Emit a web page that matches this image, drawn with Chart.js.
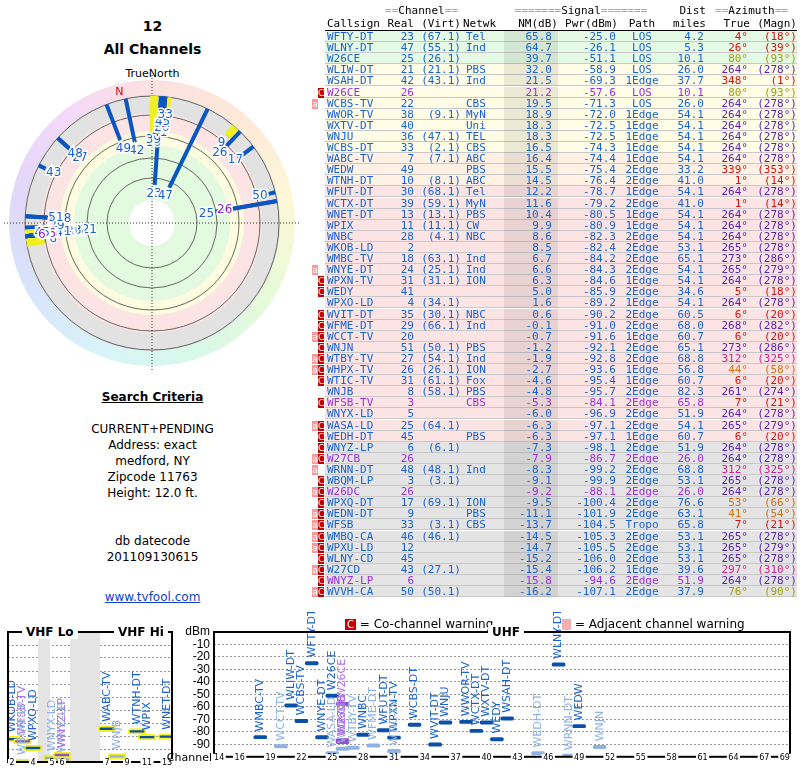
<!DOCTYPE html>
<html>
<head>
<meta charset="utf-8">
<script src="https://cdn.jsdelivr.net/npm/chart.js"></script>
<style>
body { margin:0; width:800px; height:768px; background:#fff; position:relative; overflow:hidden; font-family:"DejaVu Sans", Verdana, sans-serif; }
.abs { position:absolute; }
.tbl { font-family:"DejaVu Sans Mono", monospace; font-size:11px; }
.c { position:absolute; white-space:pre; top:0; line-height:11px; }
.mk { position:absolute; width:6px; height:10px; color:#fff; font-size:9px; line-height:10px; text-align:center; font-family:"DejaVu Sans", sans-serif; }
</style>
</head>
<body>
<div class="abs" style="left:0;width:305px;top:18px;text-align:center;font-weight:bold;font-size:14px">12</div>
<div class="abs" style="left:0;width:305px;top:41px;text-align:center;font-weight:bold;font-size:14px">All Channels</div>
<div class="abs" style="left:0;width:305px;top:67px;text-align:center;font-size:11px">TrueNorth</div>
<canvas id="polar" class="abs" style="left:2px;top:73px" width="300" height="300"></canvas>
<div class="abs" style="left:0;width:305px;top:389px;text-align:center;font-size:12px;line-height:16px">
<b style="text-decoration:underline">Search Criteria</b><br><br>
CURRENT+PENDING<br>Address: exact<br>medford, NY<br>Zipcode 11763<br>Height: 12.0 ft.<br><br><br>db datecode<br>201109130615
</div>
<div class="abs" style="left:0;width:305px;top:590px;text-align:center;font-size:12px;color:#1040d0;text-decoration:underline">www.tvfool.com</div>

<div id="table" class="abs tbl" style="left:0;top:0;width:800px;height:600px"></div>

<canvas id="vhf" class="abs" style="left:0;top:612px" width="180" height="156"></canvas>
<canvas id="uhf" class="abs" style="left:160px;top:612px" width="640" height="156"></canvas>
<div class="abs" style="left:345px;top:617px;font-size:12px"><span style="background:#c00;color:#fff;padding:0 2px;font-size:10px">C</span> = Co-channel warning</div>
<div class="abs" style="left:562px;top:617px;font-size:12px"><span style="background:#f4b0b0;color:#fff;padding:0 3px;font-size:10px">&nbsp;</span> = Adjacent channel warning</div>
<div class="abs" style="left:22px;top:625px;font-size:12px;font-weight:bold;background:#fff;padding:0 4px">VHF Lo</div>
<div class="abs" style="left:114px;top:625px;font-size:12px;font-weight:bold;background:#fff;padding:0 4px">VHF Hi</div>
<div class="abs" style="left:488px;top:625px;font-size:12px;font-weight:bold;background:#fff;padding:0 4px">UHF</div>

<script>
// callsign, real, virt, netwk, nm, pwr, path, dist, true, magn, marks, purple
const stations = [
    ['WFTY-DT', 23, '(67.1)', 'Tel', 65.8, -25.0, 'LOS', 4.2, 4, 18, '', 0],
    ['WLNY-DT', 47, '(55.1)', 'Ind', 64.7, -26.1, 'LOS', 5.3, 26, 39, '', 0],
    ['W26CE', 25, '(26.1)', '', 39.7, -51.1, 'LOS', 10.1, 80, 93, '', 0],
    ['WLIW-DT', 21, '(21.1)', 'PBS', 32.0, -58.9, 'LOS', 26.0, 264, 278, '', 0],
    ['WSAH-DT', 42, '(43.1)', 'Ind', 21.5, -69.3, '1Edge', 37.7, 348, 1, '', 0],
    ['W26CE', 26, '', '', 21.2, -57.6, 'LOS', 10.1, 80, 93, 'C', 1],
    ['WCBS-TV', 22, '', 'CBS', 19.5, -71.3, 'LOS', 26.0, 264, 278, 'a', 0],
    ['WWOR-TV', 38, '(9.1)', 'MyN', 18.9, -72.0, '1Edge', 54.1, 264, 278, '', 0],
    ['WXTV-DT', 40, '', 'Uni', 18.3, -72.5, '1Edge', 54.1, 264, 278, '', 0],
    ['WNJU', 36, '(47.1)', 'TEL', 18.3, -72.5, '1Edge', 54.1, 264, 278, '', 0],
    ['WCBS-DT', 33, '(2.1)', 'CBS', 16.5, -74.3, '1Edge', 54.1, 264, 278, '', 0],
    ['WABC-TV', 7, '(7.1)', 'ABC', 16.4, -74.4, '1Edge', 54.1, 264, 278, '', 0],
    ['WEDW', 49, '', 'PBS', 15.5, -75.4, '2Edge', 33.2, 339, 353, '', 0],
    ['WTNH-DT', 10, '(8.1)', 'ABC', 14.5, -76.4, '2Edge', 41.0, 1, 14, '', 0],
    ['WFUT-DT', 30, '(68.1)', 'Tel', 12.2, -78.7, '1Edge', 54.1, 264, 278, '', 0],
    ['WCTX-DT', 39, '(59.1)', 'MyN', 11.6, -79.2, '2Edge', 41.0, 1, 14, '', 0],
    ['WNET-DT', 13, '(13.1)', 'PBS', 10.4, -80.5, '1Edge', 54.1, 264, 278, '', 0],
    ['WPIX', 11, '(11.1)', 'CW', 9.9, -80.9, '1Edge', 54.1, 264, 278, '', 0],
    ['WNBC', 28, '(4.1)', 'NBC', 8.6, -82.3, '2Edge', 54.1, 264, 278, '', 0],
    ['WKOB-LD', 2, '', '', 8.5, -82.4, '2Edge', 53.1, 265, 278, '', 0],
    ['WMBC-TV', 18, '(63.1)', 'Ind', 6.7, -84.2, '2Edge', 65.1, 273, 286, '', 0],
    ['WNYE-DT', 24, '(25.1)', 'Ind', 6.6, -84.3, '2Edge', 54.1, 265, 279, 'a', 0],
    ['WPXN-TV', 31, '(31.1)', 'ION', 6.3, -84.6, '1Edge', 54.1, 264, 278, 'C', 0],
    ['WEDY', 41, '', '', 5.0, -85.9, '2Edge', 34.6, 5, 18, 'C', 0],
    ['WPXO-LD', 4, '(34.1)', '', 1.6, -89.2, '1Edge', 54.1, 264, 278, '', 0],
    ['WVIT-DT', 35, '(30.1)', 'NBC', 0.6, -90.2, '2Edge', 60.5, 6, 20, 'C', 0],
    ['WFME-DT', 29, '(66.1)', 'Ind', -0.1, -91.0, '2Edge', 68.0, 268, 282, 'C', 0],
    ['WCCT-TV', 20, '', '', -0.7, -91.6, '1Edge', 60.7, 6, 20, 'aC', 0],
    ['WNJN', 51, '(50.1)', 'PBS', -1.2, -92.1, '2Edge', 65.1, 273, 286, 'C', 0],
    ['WTBY-TV', 27, '(54.1)', 'Ind', -1.9, -92.8, '2Edge', 68.8, 312, 325, 'aC', 0],
    ['WHPX-TV', 26, '(26.1)', 'ION', -2.7, -93.6, '1Edge', 56.8, 44, 58, 'aC', 0],
    ['WTIC-TV', 31, '(61.1)', 'Fox', -4.6, -95.4, '1Edge', 60.7, 6, 20, 'C', 0],
    ['WNJB', 8, '(58.1)', 'PBS', -4.8, -95.7, '2Edge', 82.3, 261, 274, '', 0],
    ['WFSB-TV', 3, '', 'CBS', -5.3, -84.1, '2Edge', 65.8, 7, 21, 'C', 1],
    ['WNYX-LD', 5, '', '', -6.0, -96.9, '2Edge', 51.9, 264, 278, '', 0],
    ['WASA-LD', 25, '(64.1)', '', -6.3, -97.1, '2Edge', 54.1, 265, 279, 'aC', 0],
    ['WEDH-DT', 45, '', 'PBS', -6.3, -97.1, '1Edge', 60.7, 6, 20, 'C', 0],
    ['WNYZ-LP', 6, '(6.1)', '', -7.3, -98.1, '2Edge', 51.9, 264, 278, 'C', 0],
    ['W27CB', 26, '', '', -7.9, -86.7, '2Edge', 26.0, 264, 278, 'aC', 1],
    ['WRNN-DT', 48, '(48.1)', 'Ind', -8.3, -99.2, '2Edge', 68.8, 312, 325, 'a', 0],
    ['WBQM-LP', 3, '(3.1)', '', -9.1, -99.9, '2Edge', 53.1, 265, 278, 'C', 0],
    ['W26DC', 26, '', '', -9.2, -88.1, '2Edge', 26.0, 264, 278, 'aC', 1],
    ['WPXQ-DT', 17, '(69.1)', 'ION', -9.5, -100.4, '2Edge', 76.6, 53, 66, 'C', 0],
    ['WEDN-DT', 9, '', 'PBS', -11.1, -101.9, '2Edge', 63.1, 41, 54, 'aC', 0],
    ['WFSB', 33, '(3.1)', 'CBS', -13.7, -104.5, 'Tropo', 65.8, 7, 21, 'aC', 0],
    ['WMBQ-CA', 46, '(46.1)', '', -14.5, -105.3, '2Edge', 53.1, 265, 278, 'aC', 0],
    ['WPXU-LD', 12, '', '', -14.7, -105.5, '2Edge', 53.1, 265, 279, 'aC', 0],
    ['WLNY-CD', 45, '', '', -15.2, -106.0, '2Edge', 53.1, 265, 278, 'C', 0],
    ['W27CD', 43, '(27.1)', '', -15.4, -106.2, '1Edge', 39.6, 297, 310, 'aC', 0],
    ['WNYZ-LP', 6, '', '', -15.8, -94.6, '2Edge', 51.9, 264, 278, 'C', 1],
    ['WVVH-CA', 50, '(50.1)', '', -16.2, -107.1, '2Edge', 37.9, 76, 90, 'aC', 0]
];

const BLUE = '#1a62d0', PURPLE = '#9a30e0';
// VHF channels sit on a non-uniform axis (gaps between 4/5 and 6/7)
const vhfPos = { 2: 12, 3: 22.5, 4: 33, 5: 52, 6: 62, 7: 107, 8: 117, 9: 127, 10: 137, 11: 147, 12: 157, 13: 167 };

function azColor(a) {
    if (a >= 255 && a <= 275) return '#5a22b0';
    if (a >= 290 && a <= 330) return '#d0208f';
    if (a >= 40 && a <= 60) return '#d07010';
    if (a >= 70 && a <= 95) return '#a0a010';
    return '#d81010';
}
function rowBg(i) {
    if (i < 3) return '#e4fae4';
    if (i < 11) return '#fffde6';
    if (i < 14) return '#fff1e4';
    if (i < 37) return '#fde4e4';
    return '#e4e4e4';
}

// ---- table ----
(function buildTable() {
    const t = document.getElementById('table');
    let html = '';
    const cell = (txt, l, r, align, col, extra) =>
        `<span class="c" style="left:${l}px;width:${r - l}px;text-align:${align};color:${col};${extra || ''}">${txt}</span>`;
    const g = s => `<span style="color:#aaa">${s}</span>`;
    html += `<div class="abs" style="left:0;top:5px;width:800px;height:12px">`
        + cell(g('==') + 'Channel' + g('=='), 382, 461, 'center', '#000')
        + cell(g('=======') + 'Signal' + g('======='), 504, 658, 'center', '#000')
        + cell('Dist', 660, 706, 'right', '#000')
        + cell(g('==') + 'Azimuth' + g('=='), 706, 797, 'center', '#000') + '</div>';
    html += `<div class="abs" style="left:325px;top:17px;width:472px;height:13px;border-bottom:1px solid #000"></div>`;
    html += `<div class="abs" style="left:0;top:18px;width:800px;height:12px">`
        + cell('Callsign', 327, 382, 'left', '#000')
        + cell('Real', 382, 414, 'right', '#000')
        + cell('(Virt)', 414, 461, 'right', '#000')
        + cell('Netwk', 463, 504, 'left', '#000')
        + cell('NM(dB)', 504, 558, 'right', '#000')
        + cell('Pwr(dBm)', 558, 618, 'right', '#000')
        + cell('Path', 622, 662, 'center', '#000')
        + cell('miles', 660, 706, 'right', '#000')
        + cell('True', 706, 750, 'right', '#000')
        + cell('(Magn)', 750, 797, 'right', '#000') + '</div>';
    stations.forEach((s, i) => {
        const top = 31 + i * 11.1;
        const col = s[11] ? PURPLE : BLUE;
        const ac = azColor(s[8]);
        html += `<div class="abs" style="left:325px;top:${top}px;width:472px;height:10.1px;background:${rowBg(i)};border-bottom:1px solid #c8c8c8"></div>`;
        html += `<div class="abs" style="left:504px;top:${top}px;width:54px;height:11.1px;background:rgba(0,0,0,0.08)"></div>`;
        html += `<div class="abs" style="left:0;top:${top}px;width:800px;height:11px">`
            + cell(s[0], 327, 382, 'left', col)
            + cell(s[1], 382, 414, 'right', col)
            + cell(s[2], 414, 461, 'right', col)
            + cell(s[3], 466, 504, 'left', col)
            + cell(s[4].toFixed(1), 504, 552, 'right', col)
            + cell(s[5].toFixed(1), 558, 616, 'right', col)
            + cell(s[6], 622, 662, 'center', col)
            + cell(s[7].toFixed(1), 660, 704, 'right', col)
            + cell(s[8] + '°', 706, 748, 'right', ac)
            + cell('(' + s[9] + '°)', 750, 797, 'right', ac) + '</div>';
        if (s[10].includes('a')) html += `<div class="mk" style="left:312px;top:${top + 1}px;background:#f49a9a">a</div>`;
        if (s[10].includes('C')) html += `<div class="mk" style="left:318px;top:${top + 1}px;background:#c00000">C</div>`;
    });
    t.innerHTML = html;
})();

// ---- polar plot ----
function nmToR(nm) { return Math.max(30, Math.min(122, 104 - nm)); }
const polarSets = [];
stations.forEach(s => {
    const a = s[8] * Math.PI / 180;
    const r0 = nmToR(s[4]), r1 = 127;
    const pts = [{ x: r0 * Math.sin(a), y: r0 * Math.cos(a) }, { x: r1 * Math.sin(a), y: r1 * Math.cos(a) }];
    if (s[1] <= 13) polarSets.push({ data: pts, showLine: true, borderColor: '#f0f020', borderWidth: 8, pointRadius: 0 });
    polarSets.push({ data: pts, showLine: true, borderColor: s[11] ? '#8a20d0' : '#0a55c0', borderWidth: 4, pointRadius: 0, _st: s });
});

const polarBg = {
    id: 'polarBg',
    beforeDatasetsDraw(chart) {
        const { ctx, scales: { x, y } } = chart;
        const cx = x.getPixelForValue(0), cy = y.getPixelForValue(0);
        ctx.save();
        const cg = ctx.createConicGradient(-Math.PI / 2, cx, cy);
        ['#fde0e0', '#fde8d8', '#fdf8d8', '#e8fad8', '#d8f8e8', '#d8f4f8', '#d8e4fa', '#e0d8fa', '#f4d8fa', '#fde0e0']
            .forEach((c, i, arr) => cg.addColorStop(i / (arr.length - 1), c));
        const disc = (r, fill) => { ctx.beginPath(); ctx.arc(cx, cy, r, 0, Math.PI * 2); ctx.fillStyle = fill; ctx.fill(); };
        disc(143, cg);
        disc(128, '#e2e2e2');
        disc(110, '#fde4e4');
        disc(92, '#fdfbe0');
        disc(78, '#e4fae0');
        disc(23, '#fff');
        ctx.strokeStyle = '#444'; ctx.lineWidth = 0.8;
        [45, 65, 87, 108, 127].forEach(r => { ctx.beginPath(); ctx.arc(cx, cy, r, 0, Math.PI * 2); ctx.stroke(); });
        ctx.setLineDash([1, 2]); ctx.strokeStyle = '#000';
        ctx.beginPath(); ctx.moveTo(cx - 148, cy); ctx.lineTo(cx + 148, cy);
        ctx.moveTo(cx, cy - 148); ctx.lineTo(cx, cy + 148); ctx.stroke();
        ctx.setLineDash([]);
        const ma = -14 * Math.PI / 180;
        ctx.fillStyle = '#d00'; ctx.font = '11px "DejaVu Sans"'; ctx.textAlign = 'center'; ctx.textBaseline = 'middle';
        ctx.fillText('N', cx + 135 * Math.sin(ma), cy - 135 * Math.cos(ma));
        ctx.restore();
    },
    afterDatasetsDraw(chart) {
        const { ctx, scales: { x, y } } = chart;
        ctx.save();
        ctx.font = '12px "DejaVu Sans"'; ctx.textAlign = 'center'; ctx.textBaseline = 'middle';
        chart.data.datasets.forEach(ds => {
            if (!ds._st) return;
            const s = ds._st, a = s[8] * Math.PI / 180, r = nmToR(s[4]) - 9;
            const px = x.getPixelForValue(r * Math.sin(a)), py = y.getPixelForValue(r * Math.cos(a));
            ctx.strokeStyle = '#fff'; ctx.lineWidth = 3;
            ctx.strokeText(s[1], px, py);
            ctx.fillStyle = s[11] ? '#8a20d0' : '#1a62d0';
            ctx.fillText(s[1], px, py);
        });
        ctx.restore();
    }
};

new Chart(document.getElementById('polar'), {
    type: 'scatter',
    data: { datasets: polarSets },
    options: {
        responsive: false, animation: false,
        plugins: { legend: { display: false }, tooltip: { enabled: false } },
        scales: {
            x: { display: false, min: -150, max: 150 },
            y: { display: false, min: -150, max: 150 }
        }
    },
    plugins: [polarBg]
});

// ---- spectrum ----
function specData(vhf) {
    const h = vhf ? 2.2 : 1.3;
    return stations.filter(s => (vhf ? s[1] <= 13 : s[1] >= 14) && s[5] >= -100)
        .map(s => ({ x: vhf ? vhfPos[s[1]] : s[1], y: [s[5] - h, s[5] + h], st: s }));
}
function markColor(s, label) {
    if (s[11]) return label ? '#b070e8' : '#9050d0';
    if (s[4] < 0) return '#8fb2e4';
    return label ? '#1a62d0' : '#0a4fa8';
}
const specLabels = {
    id: 'specLabels',
    beforeDatasetsDraw(chart, args, opts) {
        const { ctx, chartArea: a, scales: { x } } = chart;
        ctx.save();
        ctx.fillStyle = '#e4e4e4';
        (opts.shade || []).forEach(([l, r]) => {
            const x0 = x.getPixelForValue(l), x1 = x.getPixelForValue(r);
            ctx.fillRect(x0, a.top, x1 - x0, a.bottom - a.top);
        });
        ctx.restore();
    },
    afterDatasetsDraw(chart, args, opts) {
        const { ctx, chartArea: a, scales: { x } } = chart;
        const meta = chart.getDatasetMeta(0);
        ctx.save();
        ctx.font = '11px "DejaVu Sans"';
        ctx.textBaseline = 'middle'; ctx.textAlign = 'left';
        meta.data.forEach((el, i) => {
            const s = chart.data.datasets[0].data[i].st;
            ctx.save();
            ctx.translate(el.x, Math.min(el.y, el.base) - 4);
            ctx.rotate(-Math.PI / 2);
            ctx.fillStyle = markColor(s, true);
            ctx.fillText(s[0], 0, 0);
            ctx.restore();
        });
        ctx.strokeStyle = '#000'; ctx.lineWidth = 2;
        ctx.strokeRect(a.left, a.top, a.right - a.left, a.bottom - a.top);
        ctx.font = '8px "DejaVu Sans"'; ctx.textAlign = 'center'; ctx.textBaseline = 'middle';
        (opts.ticks || []).forEach(v => {
            const px = x.getPixelForValue(opts.pos ? opts.pos[v] : v);
            const w = ctx.measureText(v).width + 3;
            ctx.fillStyle = '#fff'; ctx.fillRect(px - w / 2, a.bottom - 3, w, 7);
            ctx.fillStyle = '#000'; ctx.fillText(v, px, a.bottom + 1);
        });
        if (opts.channelLabel) {
            ctx.fillStyle = '#000'; ctx.font = '11px "DejaVu Sans"'; ctx.textAlign = 'right';
            ctx.fillText('Channel', a.left - 2, a.bottom + 1);
        }
        ctx.restore();
    }
};

function spectrum(id, vhf) {
    const data = specData(vhf);
    const ticks = vhf ? [2, 4, 5, 6, 7, 9, 11, 13] : [14, 16, 19, 22, 25, 28, 31, 34, 37, 40, 43, 46, 49, 52, 55, 58, 61, 64, 67, 69];
    return new Chart(document.getElementById(id), {
        type: 'bar',
        data: {
            datasets: [{
                data: data,
                backgroundColor: data.map(d => markColor(d.st, false)),
                borderColor: data.map(d => vhf ? '#f4f020' : markColor(d.st, false)),
                borderWidth: vhf ? 2 : 0,
                borderSkipped: false,
                borderRadius: 3,
                barThickness: vhf ? 18 : 13
            }]
        },
        options: {
            responsive: false, animation: false,
            layout: { padding: { top: 20, right: vhf ? 8 : 10, left: vhf ? 8 : 0, bottom: 6 } },
            plugins: {
                legend: { display: false }, tooltip: { enabled: false },
                specLabels: {
                    shade: vhf ? [[38, 50], [70, 100]] : [], channelLabel: !vhf, ticks: ticks,
                    pos: vhf ? vhfPos : null
                }
            },
            scales: {
                x: { type: 'linear', display: false, offset: false, min: vhf ? 8 : 13.5, max: vhf ? 172 : 69.5 },
                y: {
                    min: -100, max: 0,
                    position: 'left',
                    afterFit: sc => { sc.width = vhf ? 0 : 54; },
                    grid: { color: '#999', drawTicks: false },
                    border: { display: false, dash: [2, 2] },
                    ticks: {
                        display: !vhf, stepSize: 10, autoSkip: false, color: '#000', font: { size: 12 }, padding: 4,
                        callback: v => (v === -100 ? '' : v === 0 ? 'dBm' : v)
                    }
                }
            }
        },
        plugins: [specLabels]
    });
}
spectrum('vhf', true);
spectrum('uhf', false);
</script>
</body>
</html>
